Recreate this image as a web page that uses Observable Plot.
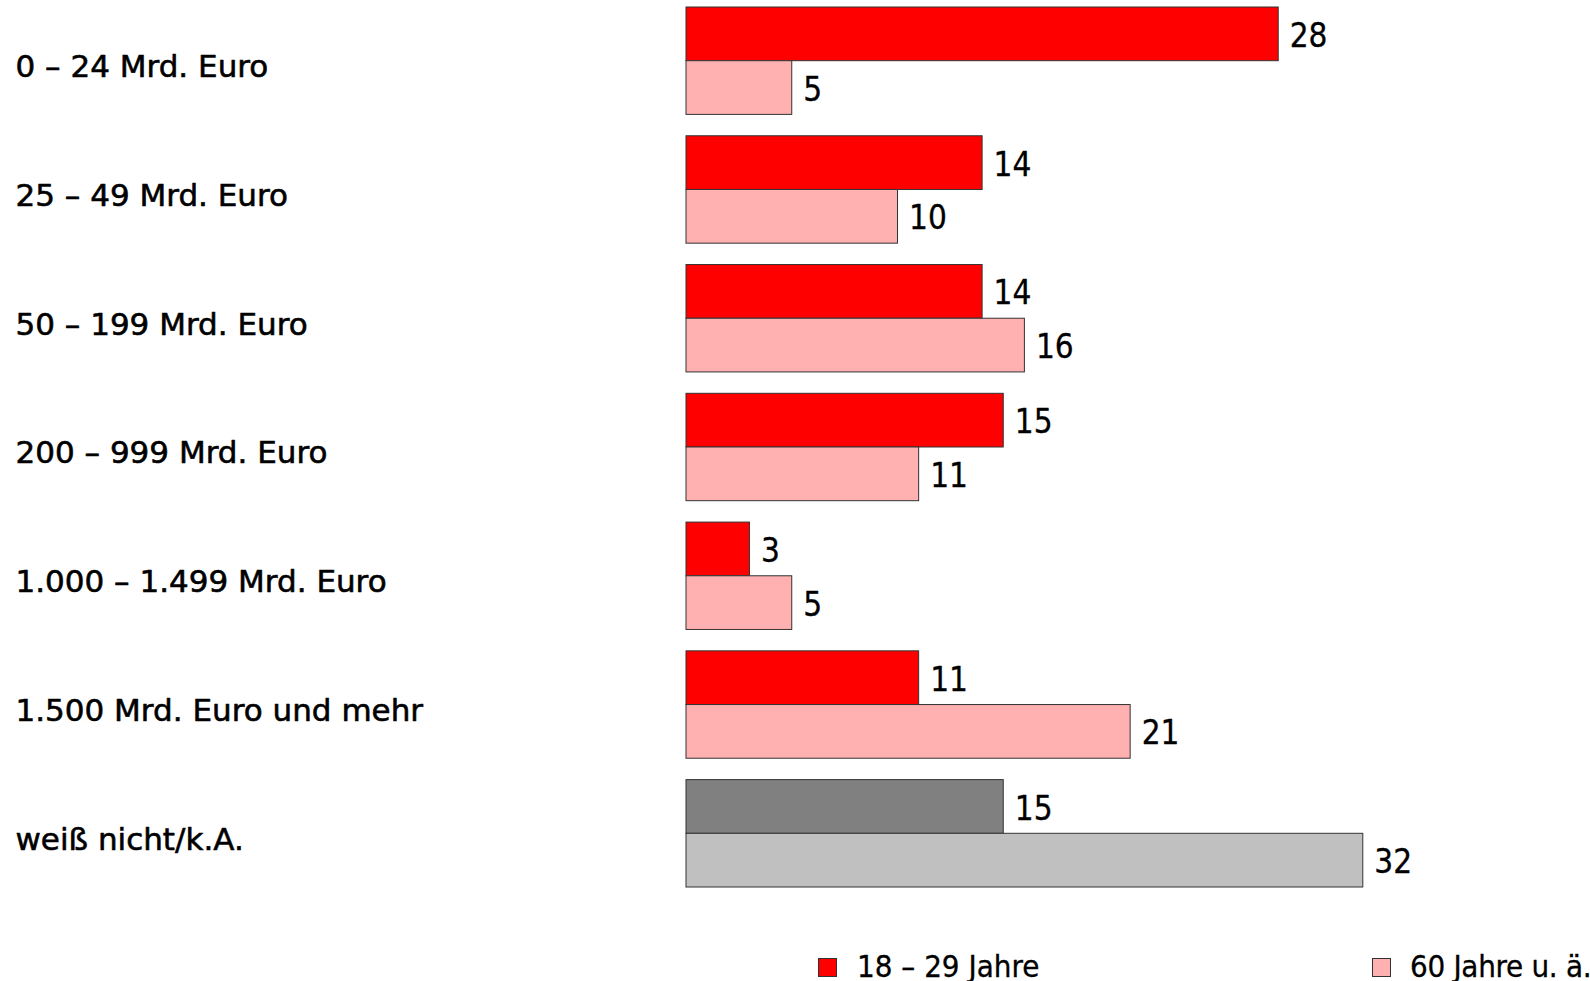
<!DOCTYPE html>
<html>
<head>
<meta charset="utf-8">
<script src="https://cdn.jsdelivr.net/npm/d3@7"></script>
<script src="https://cdn.jsdelivr.net/npm/@observablehq/plot@0.6"></script>
<style>
  html, body { margin: 0; padding: 0; background: white; overflow: hidden; }
  #wrap { position: relative; width: 1590px; height: 981px; }
  .leg { position: absolute; font-family: "DejaVu Sans Condensed", "DejaVu Sans", sans-serif; font-stretch: condensed; font-size: 31px; color: #000; line-height: 1; white-space: nowrap; -webkit-text-stroke: 0.3px #000; }
  .sw { position: absolute; width: 19px; height: 19px; box-sizing: border-box; border: 1px solid #333; }
  svg g[aria-label="value labels"] { font-stretch: condensed; }
</style>
</head>
<body>
<div id="wrap"></div>
<script>
const categories = ["0 – 24 Mrd. Euro", "25 – 49 Mrd. Euro", "50 – 199 Mrd. Euro", "200 – 999 Mrd. Euro", "1.000 – 1.499 Mrd. Euro", "1.500 Mrd. Euro und mehr", "weiß nicht/k.A."];
const seriesNames = ["18 – 29 Jahre", "60 Jahre u. ä."];
const young = [28, 14, 14, 15, 3, 11, 15];
const old = [5, 10, 16, 11, 5, 21, 32];

const rows = categories.flatMap((c, i) => [
  {cat: c, series: seriesNames[0], value: young[i]},
  {cat: c, series: seriesNames[1], value: old[i]}
]);
const unknown = categories[categories.length - 1];
const fillKey = d => (d.cat === unknown ? "g" : "r") + seriesNames.indexOf(d.series);

const chart = Plot.plot({
  width: 1590,
  height: 900,
  marginTop: 7,
  marginBottom: 13,
  marginLeft: 686,
  marginRight: 58,
  style: {background: "white", fontFamily: "'DejaVu Sans', sans-serif"},
  x: {domain: [0, 40], axis: null},
  y: {domain: seriesNames, axis: null, padding: 0, round: false},
  fy: {domain: categories, axis: null, paddingInner: 0.166, paddingOuter: 0, round: false},
  color: {domain: ["r0", "r1", "g0", "g1"], range: ["#ff0000", "#ffb0b0", "#808080", "#c0c0c0"]},
  facet: {data: rows, y: "cat", marginTop: 0, marginBottom: 0, marginLeft: 0, marginRight: 0},
  marks: [
    Plot.barX(rows, {x: "value", y: "series", fill: fillKey, stroke: "#333", strokeWidth: 1}),
    Plot.text(rows, {x: "value", y: "series", text: d => String(d.value), textAnchor: "start", dx: 11, dy: 2, fontSize: 33, fontFamily: "'DejaVu Sans Condensed', 'DejaVu Sans', sans-serif", fill: "#000", stroke: "#000", strokeWidth: 0.3, ariaLabel: "value labels"}),
    Plot.text(rows, {filter: d => d.series === seriesNames[0], text: "cat", frameAnchor: "left", textAnchor: "start", dx: -671, dy: 6, fontSize: 31, fontFamily: "'DejaVu Sans', sans-serif", fill: "#000", stroke: "#000", strokeWidth: 0.6, ariaLabel: "category labels"})
  ]
});
const wrap = document.getElementById("wrap");
wrap.appendChild(chart);

const legendColors = ["#ff0000", "#ffb0b0"];
const legendPos = [{sq: 818, tx: 857}, {sq: 1372, tx: 1410}];
seriesNames.forEach((name, i) => {
  const sw = document.createElement("div");
  sw.className = "sw";
  sw.style.left = legendPos[i].sq + "px";
  sw.style.top = "958px";
  sw.style.background = legendColors[i];
  wrap.appendChild(sw);
  const t = document.createElement("div");
  t.className = "leg";
  t.style.left = legendPos[i].tx + "px";
  t.style.top = "951px";
  if (i === 1) t.style.letterSpacing = "-0.3px";
  t.textContent = name;
  wrap.appendChild(t);
});
</script>
</body>
</html>
